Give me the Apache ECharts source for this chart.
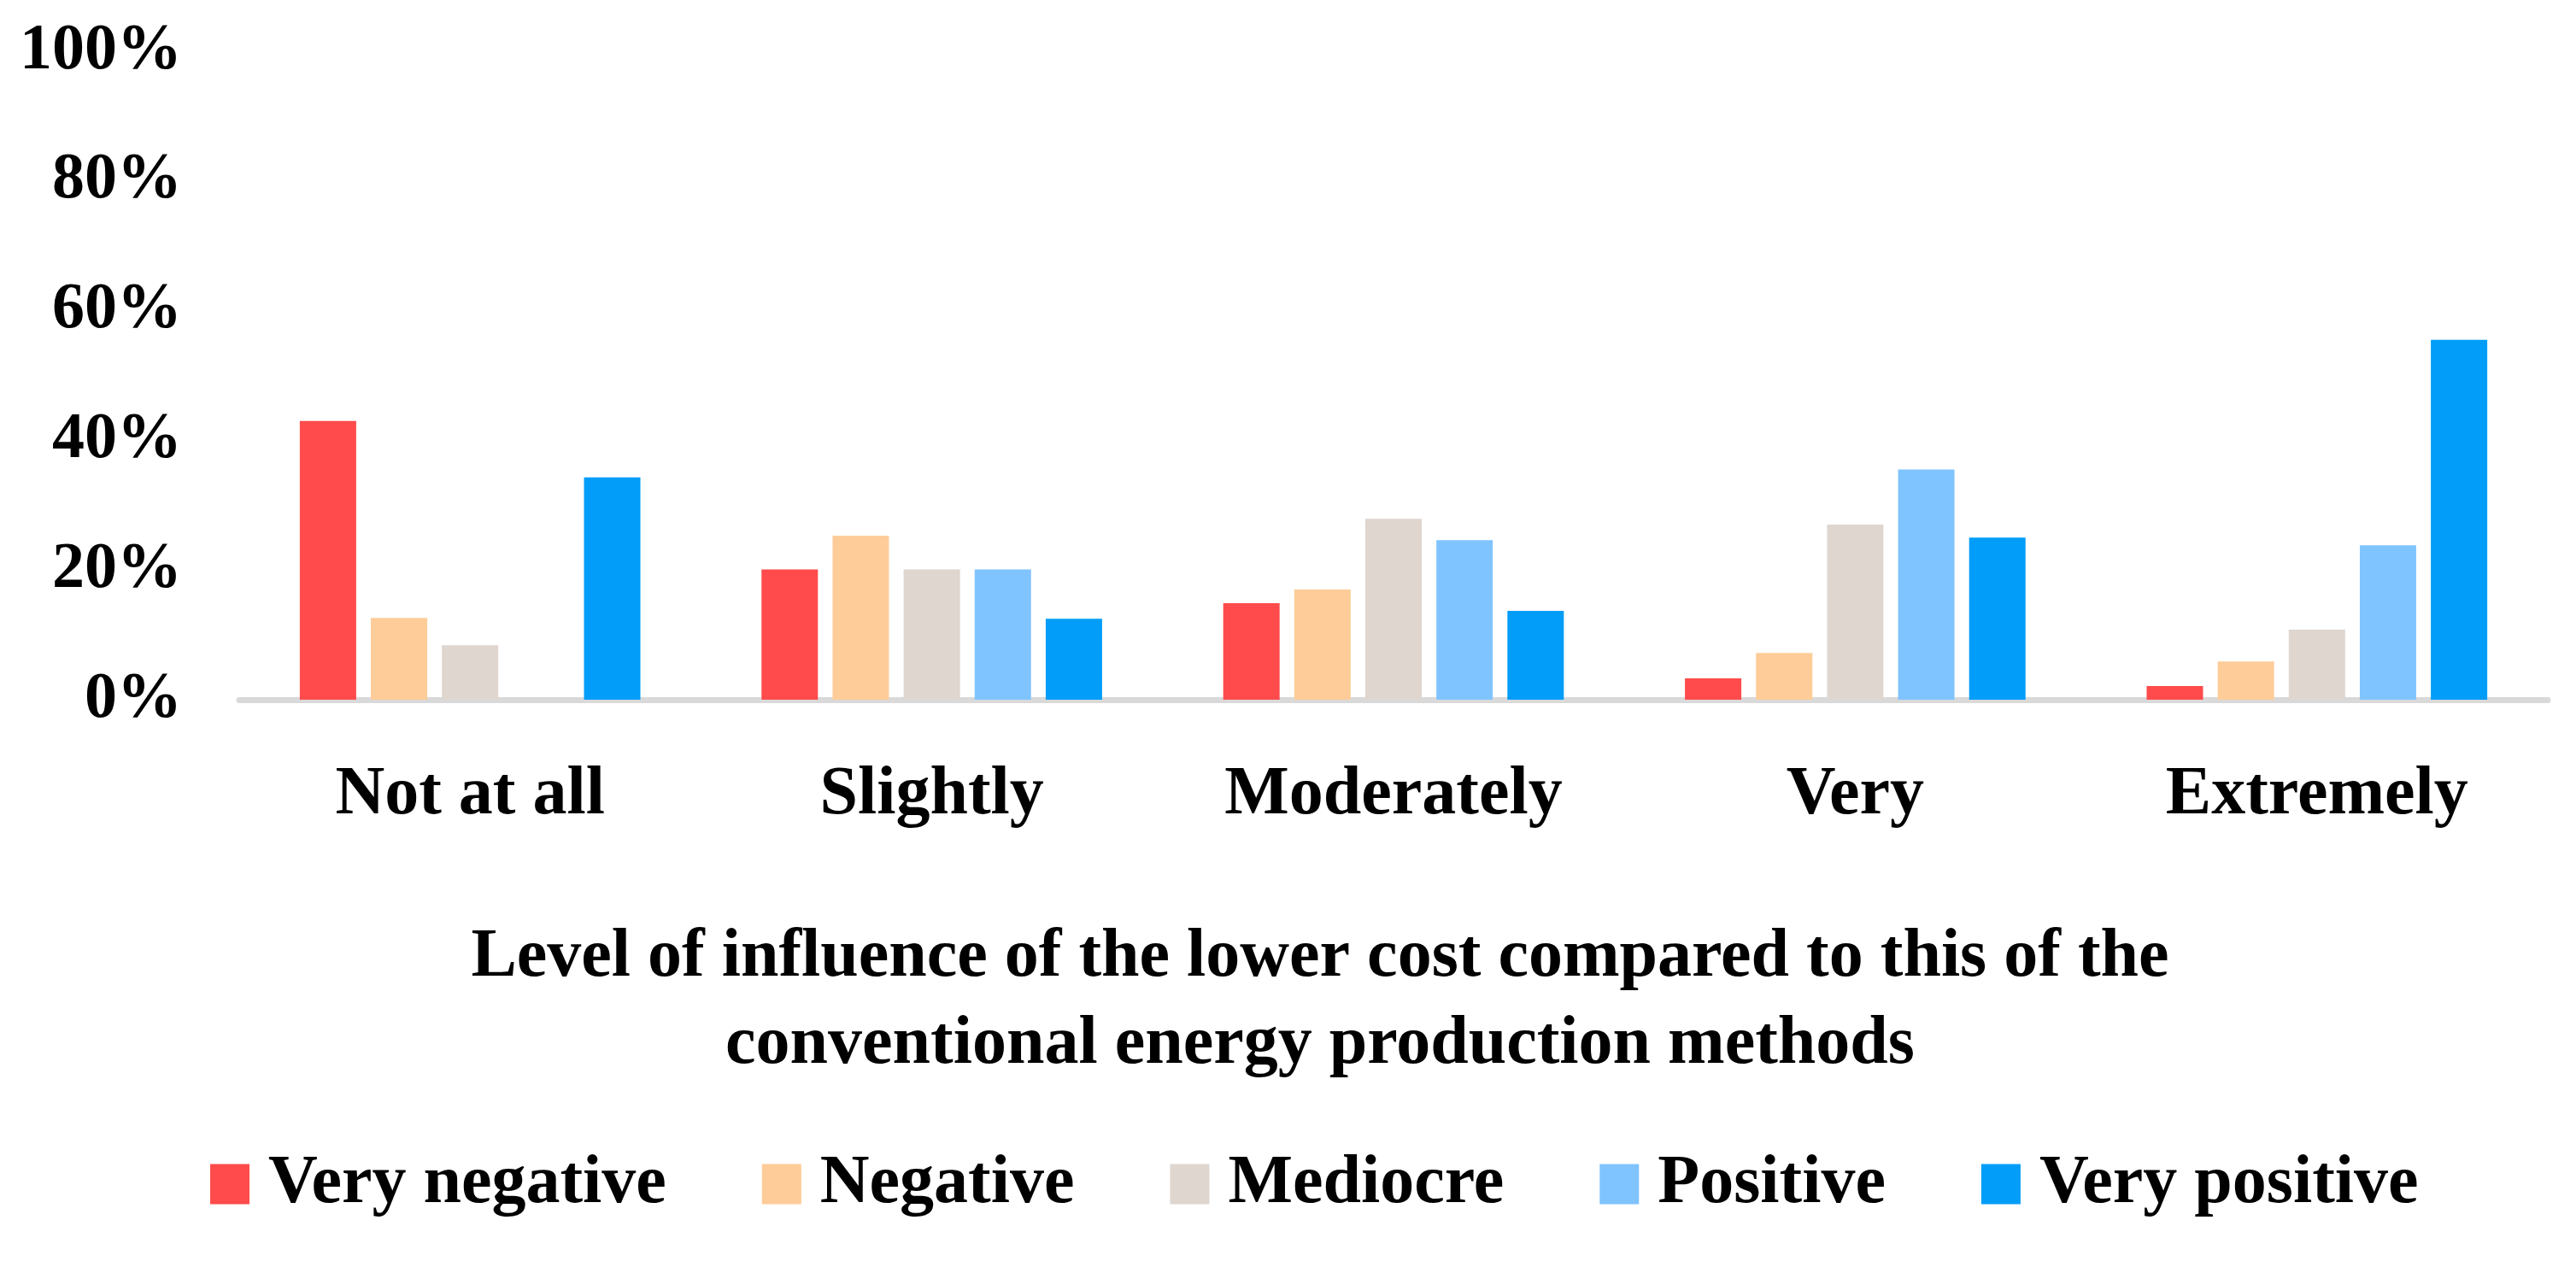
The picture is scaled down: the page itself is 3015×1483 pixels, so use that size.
<!DOCTYPE html>
<html>
<head>
<meta charset="utf-8">
<script src="https://cdn.jsdelivr.net/npm/echarts@6/dist/echarts.min.js"></script>
<style>
html,body{margin:0;padding:0;background:#fff;}
#chart{width:3015px;height:1483px;}
</style>
</head>
<body>
<div id="chart"></div>
<script>
var categories = ['Not at all', 'Slightly', 'Moderately', 'Very', 'Extremely'];
var seriesNames = ['Very negative', 'Negative', 'Mediocre', 'Positive', 'Very positive'];
var veryNegative = [43.0, 20.1, 14.9, 3.3, 2.1];
var negative = [12.6, 25.3, 17.0, 7.2, 5.9];
var mediocre = [8.4, 20.1, 27.9, 27.0, 10.8];
var positive = [0, 20.1, 24.6, 35.5, 23.8];
var veryPositive = [34.3, 12.5, 13.7, 25.0, 55.5];
var yTicks = [0, 20, 40, 60, 80, 100];
var axisTitle = 'Level of influence of the lower cost compared to this of the\nconventional energy production methods';

var colors = ['#FF4B4B', '#FECC98', '#DED6CF', '#80C4FF', '#019DF8'];
var values = [veryNegative, negative, mediocre, positive, veryPositive];
var FONT = '"Liberation Serif", serif';

var chart = echarts.init(document.getElementById('chart'));
var series = seriesNames.map(function (name, i) {
  return {
    name: name,
    type: 'bar',
    data: values[i],
    barWidth: 66,
    barGap: '26%',
    itemStyle: { color: colors[i] }
  };
});

chart.setOption({
  animation: false,
  backgroundColor: '#ffffff',
  color: colors,
  title: {
    text: axisTitle,
    left: 1545,
    top: 1070,
    textAlign: 'center',
    padding: 0,
    textStyle: {
      fontFamily: FONT,
      fontWeight: 'bold',
      fontSize: 80,
      lineHeight: 102,
      color: '#000'
    }
  },
  legend: {
    data: seriesNames,
    left: 246,
    top: 1346,
    icon: 'rect',
    itemWidth: 46,
    itemHeight: 47,
    itemGap: 112,
    padding: 0,
    textStyle: {
      fontFamily: FONT,
      fontWeight: 'bold',
      fontSize: 80,
      color: '#000',
      padding: [0, 0, 0, 17]
    }
  },
  grid: {
    left: 280,
    right: 33,
    top: 60,
    bottom: 664,
    containLabel: false
  },
  xAxis: {
    type: 'category',
    data: categories,
    offset: 3.5,
    axisLine: { show: true, lineStyle: { color: '#D9D9D9', width: 7 } },
    axisTick: { show: false },
    axisLabel: {
      margin: 69,
      fontFamily: FONT,
      fontWeight: 'bold',
      fontSize: 80,
      color: '#000'
    },
    splitLine: { show: false }
  },
  yAxis: {
    type: 'value',
    min: 0,
    max: 100,
    interval: 20,
    axisLine: { show: false },
    axisTick: { show: false },
    splitLine: { show: false },
    axisLabel: {
      margin: 67,
      fontFamily: FONT,
      fontWeight: 'bold',
      fontSize: 76,
      color: '#000',
      padding: [10, 0, 0, 0],
      formatter: function (v) { return yTicks.indexOf(v) >= 0 ? v + '%' : ''; }
    }
  },
  series: series
});
</script>
</body>
</html>
